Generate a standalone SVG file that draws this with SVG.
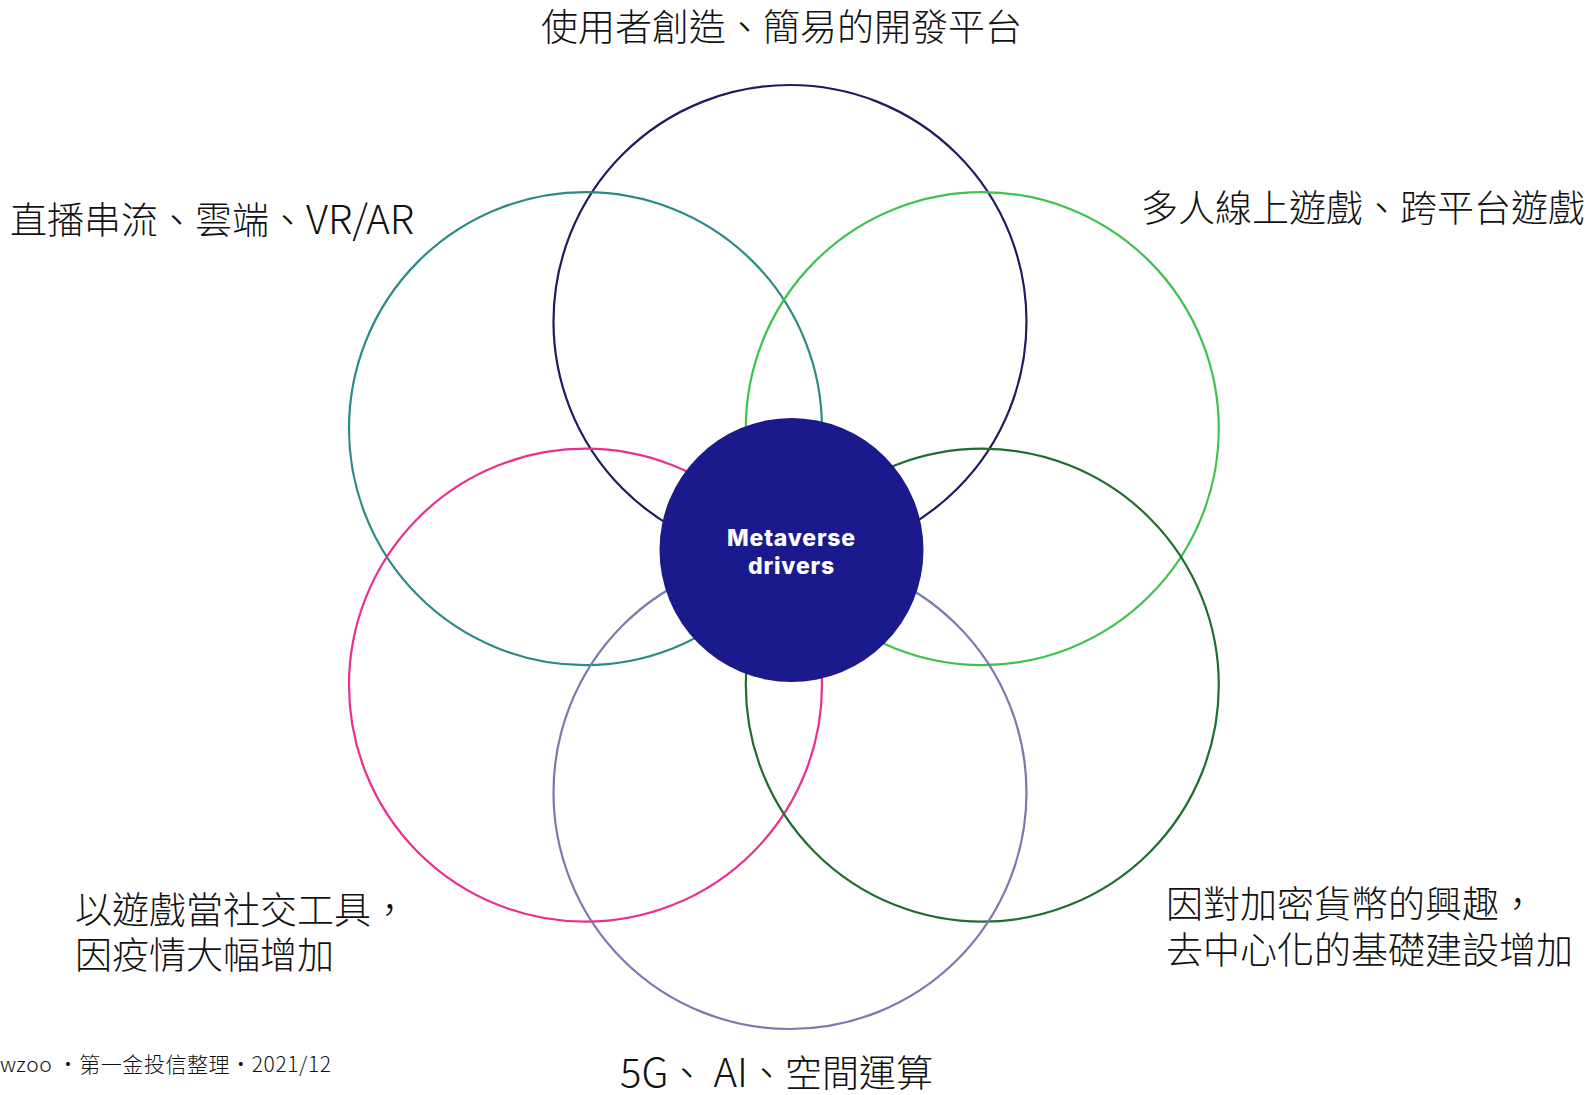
<svg xmlns="http://www.w3.org/2000/svg" width="1587" height="1095" viewBox="0 0 1587 1095">
<style>
.ring{fill:none;stroke-width:2.2}
.lbl{font-family:"Noto Sans CJK TC","Noto Sans CJK SC",sans-serif;font-size:37px;font-weight:300;fill:#111}
.foot{font-family:"Noto Sans CJK TC",sans-serif;font-size:21px;font-weight:300;fill:#111}
.hub{font-family:Inter,"Liberation Sans",sans-serif;font-size:23px;font-weight:800;fill:#fff;text-anchor:middle;letter-spacing:0.8px}
</style>
<rect width="1587" height="1095" fill="#fff"/>
<g id="rings">
<circle id="ring-top" class="ring" cx="790" cy="321.5" r="236.5" stroke="#1c1c62"/>
<circle id="ring-ul" class="ring" cx="585.5" cy="428.6" r="236.5" stroke="#2a8a84"/>
<circle id="ring-ur" class="ring" cx="982.3" cy="428.6" r="236.5" stroke="#3dc24e"/>
<circle id="ring-ll" class="ring" cx="585.5" cy="685.2" r="236.5" stroke="#ea2f8e"/>
<circle id="ring-lr" class="ring" cx="982.3" cy="685.2" r="236.5" stroke="#1f6e2f"/>
<circle id="ring-bottom" class="ring" cx="790" cy="792.5" r="236.5" stroke="#7c79ac"/>
</g>
<g id="hub">
<circle cx="791.5" cy="550" r="132" fill="#1b1a8c"/>
<text class="hub" x="791.5" y="546">Metaverse</text>
<text class="hub" x="791.5" y="574">drivers</text>
</g>
<g id="label-top"><text class="lbl" x="541" y="41">使用者創造、簡易的開發平台</text></g>
<g id="label-ul"><text class="lbl" x="10" y="234">直播串流、雲端、<tspan font-size="40">VR/AR</tspan></text></g>
<g id="label-ur"><text class="lbl" x="1141" y="222">多人線上遊戲、跨平台遊戲</text></g>
<g id="label-ll"><text class="lbl" x="75" y="924">以遊戲當社交工具，</text><text class="lbl" x="75" y="969">因疫情大幅增加</text></g>
<g id="label-lr"><text class="lbl" x="1166" y="918">因對加密貨幣的興趣，</text><text class="lbl" x="1166" y="964">去中心化的基礎建設增加</text></g>
<g id="label-bottom"><text class="lbl" x="620" y="1087"><tspan font-size="40">5G</tspan>、 <tspan font-size="40">AI</tspan>、空間運算</text></g>
<g id="footer"><text class="foot" x="0" y="1072" textLength="331" lengthAdjust="spacing">wzoo ・第一金投信整理・2021/12</text></g>
</svg>
